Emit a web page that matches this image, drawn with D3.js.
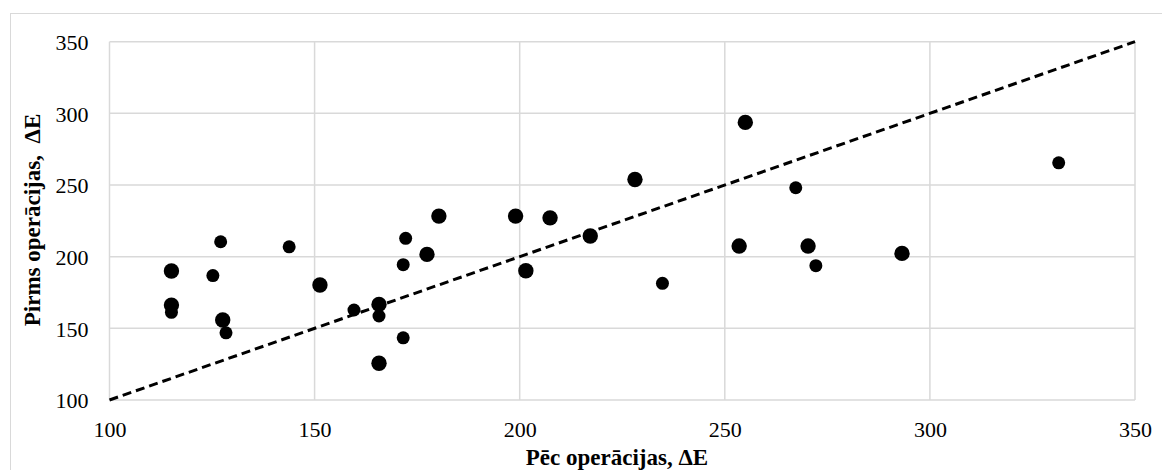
<!DOCTYPE html>
<html>
<head>
<meta charset="utf-8">
<script src="https://cdn.jsdelivr.net/npm/d3@7"></script>
<style>
  html, body { margin: 0; padding: 0; background: #ffffff; }
  svg { display: block; }
  text { font-family: "Liberation Serif", "Times New Roman", serif; fill: #000; }
</style>
</head>
<body>
<svg id="chart" width="1162" height="470"></svg>
<script>
// Colour difference after the operation (x) vs. before it (y), ΔE
const afterLarge  = [115.1, 115.1, 127.6, 151.3, 165.7, 165.7, 177.4, 180.3, 199.0, 201.5, 207.4, 217.2, 228.1, 255.0, 253.5, 270.3, 293.2];
const beforeLarge = [190.0, 166.2, 155.8, 180.2, 166.7, 125.6, 201.6, 228.3, 228.3, 190.2, 227.1, 214.4, 253.9, 293.7, 207.4, 207.4, 202.3];

const afterSmall  = [115.1, 127.1, 125.2, 128.4, 143.8, 159.6, 165.7, 171.6, 171.6, 172.2, 234.8, 267.3, 272.2, 331.4];
const beforeSmall = [161.2, 210.4, 186.8, 146.9, 206.9, 162.8, 158.6, 143.4, 194.4, 212.8, 181.4, 248.1, 193.7, 265.5];

// Reference line y = x
const refLine = [[100, 100], [350, 350]];

const xTicks = [100, 150, 200, 250, 300, 350];
const yTicks = [100, 150, 200, 250, 300, 350];
const xTitle = "Pēc operācijas, ΔE";
const yTitle = "Pirms operācijas,\u00A0\u00A0ΔE";

const svg = d3.select("#chart");
const gridColor = "#d9d9d9";

// Chart-area frame
svg.append("rect")
  .attr("x", 10.5).attr("y", 13.5)
  .attr("width", 1170).attr("height", 480)
  .attr("fill", "none").attr("stroke", gridColor).attr("stroke-width", 1);

const x = d3.scaleLinear().domain([100, 350]).range([109.5, 1135]);
const y = d3.scaleLinear().domain([100, 350]).range([400, 41.7]);

// Grid lines
const grid = svg.append("g");
grid.selectAll("line.v").data(xTicks).join("line")
  .attr("x1", d => x(d)).attr("x2", d => x(d))
  .attr("y1", y(100)).attr("y2", y(350))
  .attr("stroke", gridColor).attr("stroke-width", 1.5);
grid.selectAll("line.h").data(yTicks).join("line")
  .attr("x1", x(100)).attr("x2", x(350))
  .attr("y1", d => y(d)).attr("y2", d => y(d))
  .attr("stroke", gridColor).attr("stroke-width", 1.5);

// Axes (labels only)
const xAxis = d3.axisBottom(x).tickValues(xTicks).tickSize(0).tickPadding(0).tickFormat(d3.format("d"));
const gx = svg.append("g").attr("transform", `translate(0,${y(100)})`).call(xAxis);
gx.select(".domain").remove();
gx.selectAll("text").attr("y", 37).attr("dy", 0)
  .style("font-size", "22px").style("font-family", "Liberation Serif");

const yAxis = d3.axisLeft(y).tickValues(yTicks).tickSize(0).tickPadding(0).tickFormat(d3.format("d"));
const gy = svg.append("g").attr("transform", `translate(${x(100)},0)`).call(yAxis);
gy.select(".domain").remove();
gy.selectAll("text").attr("x", -21).attr("dy", "0.35em")
  .style("font-size", "22px").style("font-family", "Liberation Serif");

// Dashed y = x line
svg.append("path")
  .datum(refLine)
  .attr("d", d3.line().x(d => x(d[0])).y(d => y(d[1])))
  .attr("fill", "none").attr("stroke", "#000")
  .attr("stroke-width", 3).attr("stroke-dasharray", "9,5");

// Markers
const large = afterLarge.map((v, i) => [v, beforeLarge[i]]);
const small = afterSmall.map((v, i) => [v, beforeSmall[i]]);

svg.append("g").selectAll("circle").data(large).join("circle")
  .attr("cx", d => x(d[0])).attr("cy", d => y(d[1])).attr("r", 7.7).attr("fill", "#000");
svg.append("g").selectAll("circle").data(small).join("circle")
  .attr("cx", d => x(d[0])).attr("cy", d => y(d[1])).attr("r", 6.5).attr("fill", "#000");

// Axis titles
svg.append("text")
  .attr("x", 617).attr("y", 465)
  .attr("text-anchor", "middle")
  .style("font-size", "23px").style("font-weight", "bold")
  .text(xTitle);

svg.append("text")
  .attr("transform", `translate(40,220) rotate(-90)`)
  .attr("text-anchor", "middle")
  .style("font-size", "23px").style("font-weight", "bold")
  .text(yTitle);
</script>
</body>
</html>
